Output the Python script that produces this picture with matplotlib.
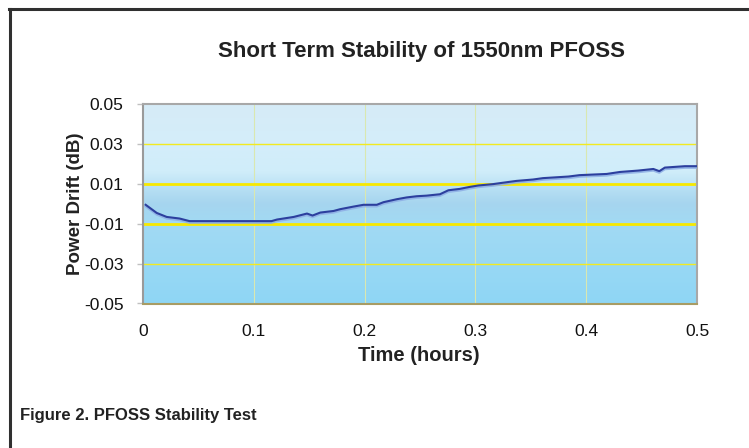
import numpy as np
import matplotlib.pyplot as plt
import matplotlib.patheffects as pe
from matplotlib.colors import LinearSegmentedColormap
from matplotlib.lines import Line2D

plt.rcParams['font.family'] = ['Liberation Sans', 'DejaVu Sans']

# data (hours, dB)
time_h = [0.0024, 0.0124, 0.0214, 0.033, 0.042, 0.116, 0.121, 0.136, 0.148, 0.153,
          0.160, 0.172, 0.178, 0.190, 0.199, 0.211, 0.217, 0.229, 0.238, 0.247,
          0.256, 0.268, 0.2756, 0.286, 0.295, 0.3026, 0.316, 0.3237, 0.337, 0.352,
          0.361, 0.384, 0.394, 0.4185, 0.4305, 0.447, 0.4606, 0.466, 0.471, 0.489, 0.5]
drift_db = [-0.0004, -0.0045, -0.0065, -0.0073, -0.0086, -0.0086, -0.0078, -0.0065, -0.0048, -0.0058,
            -0.0043, -0.0035, -0.0026, -0.0013, -0.0004, -0.0004, 0.0009, 0.0024, 0.0033, 0.0039,
            0.0042, 0.0049, 0.0069, 0.0076, 0.0086, 0.0093, 0.0100, 0.0106, 0.0116, 0.0123,
            0.0130, 0.0138, 0.0145, 0.0151, 0.0161, 0.0168, 0.0176, 0.0165, 0.0183, 0.0190, 0.0190]

x_ticks = [0, 0.1, 0.2, 0.3, 0.4, 0.5]
x_labels = ['0', '0.1', '0.2', '0.3', '0.4', '0.5']
y_ticks = [0.05, 0.03, 0.01, -0.01, -0.03, -0.05]
y_labels = ['0.05', '0.03', '0.01', '-0.01', '-0.03', '-0.05']

W, H = 749, 448
fig = plt.figure(figsize=(W / 100, H / 100), dpi=100)

# outer frame (left and top only)
fig.add_artist(Line2D([9.5 / W, 9.5 / W], [0, 1 - 9 / H], color='#303030', lw=2.2))
fig.add_artist(Line2D([8.5 / W, 1], [1 - 9.5 / H, 1 - 9.5 / H], color='#303030', lw=2.2))

ax = fig.add_axes([143 / W, 1 - 303.5 / H, 554 / W, 199 / H])

# background gradient
cmap = LinearSegmentedColormap.from_list('bg', [
    (0.0, '#8fd6f5'),
    (0.40, '#a2daf3'),
    (0.50, '#a6d5ef'),
    (0.58, '#b8e0f4'),
    (0.66, '#d0edfa'),
    (0.80, '#d4eefa'),
    (1.0, '#d6ebf7')])
grad = np.linspace(0, 1, 256).reshape(-1, 1)
ax.imshow(grad, aspect='auto', cmap=cmap, origin='lower',
          extent=[0, 0.5, -0.05, 0.05], zorder=0)

for v in [0.1, 0.2, 0.3, 0.4]:
    ax.axvline(v, color='#d9e8b0', lw=0.8, zorder=1)
for v in [0.03, -0.03]:
    ax.axhline(v, color='#f2ea20', lw=1.0, zorder=1)
for v in [0.01, -0.01]:
    ax.axhline(v, color='#f7e800', lw=2.0, zorder=1)

ax.plot(time_h, drift_db, color='#2c3f9e', lw=1.5, zorder=3,
        path_effects=[pe.SimpleLineShadow(offset=(0, -1.2), shadow_color='#8fb0e6', alpha=0.9),
                      pe.Normal()])

ax.set_xlim(0, 0.5)
ax.set_ylim(-0.05, 0.05)
ax.set_xticks(x_ticks)
ax.set_xticklabels(x_labels)
ax.set_yticks(y_ticks)
ax.set_yticklabels(y_labels)
ax.tick_params(axis='x', length=0, pad=15, labelsize=12.5, colors='#111111')
ax.tick_params(axis='y', length=4, width=1, color='#c0c0c0', pad=10, labelsize=12.5,
               labelcolor='#111111')

ax.spines['left'].set_color('#9a9a9a')
ax.spines['top'].set_color('#a8a8a8')
ax.spines['right'].set_color('#a8a8a8')
ax.spines['bottom'].set_color('#a89c64')
for s in ax.spines.values():
    s.set_linewidth(1.5)

fig.text(421 / W, 1 - 52 / H, 'Short Term Stability of 1550nm PFOSS',
         ha='center', va='center', fontsize=16, fontweight='bold', color='#222222')
fig.text(75 / W, 1 - 204 / H, 'Power Drift (dB)', ha='center', va='center',
         rotation=90, fontsize=13.5, fontweight='bold', color='#222222')
fig.text(419 / W, 1 - 355 / H, 'Time (hours)', ha='center', va='center',
         fontsize=14.5, fontweight='bold', color='#222222')
fig.text(20 / W, 1 - 415 / H, 'Figure 2. PFOSS Stability Test', ha='left', va='center',
         fontsize=12, fontweight='bold', color='#222222')

fig.savefig('out.png', dpi=100)
